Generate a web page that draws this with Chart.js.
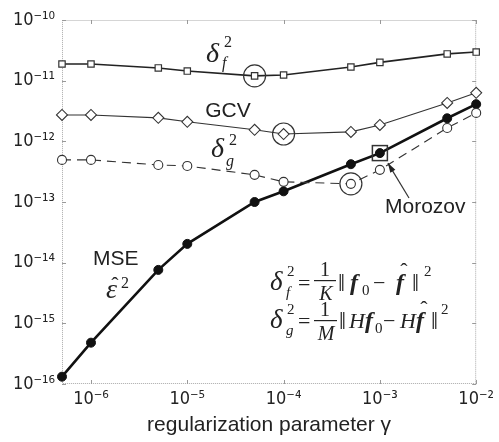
<!DOCTYPE html>
<html lang="en">
<head>
  <meta charset="UTF-8" />
  <title>Regularization parameter curves</title>
  <style>
    body { margin: 0; background: #fff; }
    #wrap { width: 499px; height: 442px; }
  </style>
</head>
<body>
  <div id="wrap"><canvas id="chart" width="499" height="442"></canvas></div>

  <script src="https://cdn.jsdelivr.net/npm/chart.js"></script>
  <script>
    // regularization parameter (x) and the four curves
    const gammaValues = [5e-7, 1e-6, 5e-6, 1e-5, 5e-5, 1e-4, 5e-4, 1e-3, 5e-3, 1e-2];
    const deltaF2 = [1.88e-11, 1.88e-11, 1.62e-11, 1.44e-11, 1.2e-11, 1.24e-11, 1.68e-11, 2.0e-11, 2.76e-11, 2.96e-11];
    const gcv     = [2.72e-12, 2.72e-12, 2.44e-12, 2.1e-12, 1.55e-12, 1.32e-12, 1.43e-12, 1.86e-12, 4.3e-12, 6.3e-12];
    const deltaG2 = [4.94e-13, 4.94e-13, 4.08e-13, 3.93e-13, 2.8e-13, 2.15e-13, 1.99e-13, 3.39e-13, 1.66e-12, 2.94e-12];
    const mse     = [1.32e-16, 4.8e-16, 7.6e-15, 2.04e-14, 1.0e-13, 1.5e-13, 4.2e-13, 6.4e-13, 2.4e-12, 4.1e-12];

    // chosen optimum on each curve (index into gammaValues)
    const bestF = 4, bestGcv = 5, bestMorozov = 6, bestMse = 7;

    const xTickValues = [1e-6, 1e-5, 1e-4, 1e-3, 1e-2];
    const xTickLabels = ['10⁻⁶', '10⁻⁵', '10⁻⁴', '10⁻³', '10⁻²'];
    const yTickValues = [1e-16, 1e-15, 1e-14, 1e-13, 1e-12, 1e-11, 1e-10];
    const yTickLabels = ['10⁻¹⁶', '10⁻¹⁵', '10⁻¹⁴', '10⁻¹³', '10⁻¹²', '10⁻¹¹', '10⁻¹⁰'];

    const pts = arr => arr.map((v, i) => ({ x: gammaValues[i], y: v }));
    const tickFont = '"DejaVu Sans Condensed", "DejaVu Sans", sans-serif';

    function put(ctx, text, x, y, font, align) {
      ctx.font = font;
      ctx.textAlign = align || 'left';
      ctx.fillText(text, x, y);
    }

    // dotted frame + inward ticks on all four sides
    const framePlugin = {
      id: 'frame',
      beforeDatasetsDraw(chart) {
        const { ctx, chartArea: a, scales } = chart;
        ctx.save();
        ctx.strokeStyle = '#aaa';
        ctx.lineWidth = 1;
        ctx.setLineDash([1, 1]);
        ctx.strokeRect(a.left + 0.5, a.top + 0.5, a.right - a.left - 1, a.bottom - a.top - 1);
        ctx.setLineDash([]);
        ctx.strokeStyle = '#999';
        xTickValues.forEach(v => {
          const px = Math.round(scales.x.getPixelForValue(v)) + 0.5;
          ctx.beginPath();
          ctx.moveTo(px, a.bottom); ctx.lineTo(px, a.bottom - 4);
          ctx.moveTo(px, a.top); ctx.lineTo(px, a.top + 4);
          ctx.stroke();
        });
        yTickValues.forEach(v => {
          const py = Math.round(scales.y.getPixelForValue(v)) + 0.5;
          ctx.beginPath();
          ctx.moveTo(a.left, py); ctx.lineTo(a.left + 4, py);
          ctx.moveTo(a.right, py); ctx.lineTo(a.right - 4, py);
          ctx.stroke();
        });
        ctx.restore();
      }
    };

    // optimum markers, arrow and text labels
    const notesPlugin = {
      id: 'notes',
      afterDatasetsDraw(chart) {
        const { ctx, scales } = chart;
        const px = i => scales.x.getPixelForValue(gammaValues[i]);
        const py = v => scales.y.getPixelForValue(v);
        ctx.save();
        ctx.strokeStyle = '#333';
        ctx.fillStyle = '#222';
        ctx.lineWidth = 1.2;
        [[bestF, deltaF2], [bestGcv, gcv], [bestMorozov, deltaG2]].forEach(([i, arr]) => {
          ctx.beginPath();
          ctx.arc(px(i), py(arr[i]), 11, 0, Math.PI * 2);
          ctx.stroke();
        });
        const sx = px(bestMse), sy = py(mse[bestMse]);
        ctx.lineWidth = 1.5;
        ctx.strokeRect(sx - 7.5, sy - 7.5, 15, 15);

        // arrow from "Morozov" to the MSE optimum
        const tx = sx + 8, ty = sy + 10, fx = 409, fy = 198;
        const ang = Math.atan2(ty - fy, tx - fx);
        ctx.lineWidth = 1.2;
        ctx.beginPath();
        ctx.moveTo(fx, fy); ctx.lineTo(tx, ty);
        ctx.stroke();
        ctx.beginPath();
        ctx.moveTo(tx, ty);
        ctx.lineTo(tx - 10 * Math.cos(ang - 0.3), ty - 10 * Math.sin(ang - 0.3));
        ctx.lineTo(tx - 10 * Math.cos(ang + 0.3), ty - 10 * Math.sin(ang + 0.3));
        ctx.closePath();
        ctx.fill();

        const sans = '21px "Liberation Sans", Arial, sans-serif';
        const serif = '"Liberation Serif", "Times New Roman", serif';
        ctx.textBaseline = 'alphabetic';

        // curve labels
        put(ctx, 'δ', 206, 62, 'italic 28px ' + serif);
        put(ctx, '2', 224, 47, '16px ' + serif);
        put(ctx, 'f', 222, 68, 'italic 16px ' + serif);
        put(ctx, 'GCV', 228, 117, sans, 'center');
        put(ctx, 'δ', 211, 157, 'italic 28px ' + serif);
        put(ctx, '2', 229, 145, '16px ' + serif);
        put(ctx, 'g', 226, 166, 'italic 16px ' + serif);
        put(ctx, 'MSE', 93, 265, sans);
        put(ctx, 'ε', 106, 298, 'italic 28px ' + serif);
        put(ctx, 'ˆ', 115, 292, '22px ' + serif, 'center');
        put(ctx, '2', 121, 288, '16px ' + serif);
        put(ctx, 'Morozov', 385, 213, sans);

        // formula 1
        put(ctx, 'δ', 270, 290, 'italic 27px ' + serif);
        put(ctx, '2', 287, 276, '15px ' + serif);
        put(ctx, 'f', 286, 297, 'italic 15px ' + serif);
        put(ctx, '=', 298, 290, '22px ' + serif);
        put(ctx, '1', 325, 276, '20px ' + serif, 'center');
        ctx.fillRect(314, 280, 22, 1.2);
        put(ctx, 'K', 326, 300, 'italic 20px ' + serif, 'center');
        put(ctx, '‖', 338, 291, '25px ' + serif);
        put(ctx, 'f', 350, 290, 'italic bold 24px ' + serif);
        put(ctx, '0', 362, 295, '15px ' + serif);
        put(ctx, '−', 373, 290, '22px ' + serif);
        put(ctx, 'f', 396, 290, 'italic bold 24px ' + serif);
        put(ctx, 'ˆ', 404, 278, '22px ' + serif, 'center');
        put(ctx, '‖', 412, 291, '25px ' + serif);
        put(ctx, '2', 424, 276, '15px ' + serif);

        // formula 2
        put(ctx, 'δ', 270, 328, 'italic 27px ' + serif);
        put(ctx, '2', 287, 314, '15px ' + serif);
        put(ctx, 'g', 286, 335, 'italic 15px ' + serif);
        put(ctx, '=', 298, 328, '22px ' + serif);
        put(ctx, '1', 325, 316, '20px ' + serif, 'center');
        ctx.fillRect(314, 320, 23, 1.2);
        put(ctx, 'M', 326, 340, 'italic 20px ' + serif, 'center');
        put(ctx, '‖', 339, 329, '25px ' + serif);
        put(ctx, 'H', 349, 328, 'italic 22px ' + serif);
        put(ctx, 'f', 365, 328, 'italic bold 24px ' + serif);
        put(ctx, '0', 375, 333, '15px ' + serif);
        put(ctx, '−', 383, 328, '22px ' + serif);
        put(ctx, 'H', 400, 328, 'italic 22px ' + serif);
        put(ctx, 'f', 416, 328, 'italic bold 24px ' + serif);
        put(ctx, 'ˆ', 424, 316, '22px ' + serif, 'center');
        put(ctx, '‖', 431, 329, '25px ' + serif);
        put(ctx, '2', 441, 314, '15px ' + serif);
        ctx.restore();
      }
    };

    const ctx = document.getElementById('chart').getContext('2d');
    new Chart(ctx, {
      type: 'line',
      data: {
        datasets: [
          {
            label: 'δf²', data: pts(deltaF2),
            borderColor: '#222', borderWidth: 1.6,
            pointStyle: 'rect', pointRadius: 4.5,
            pointBackgroundColor: '#fff', pointBorderColor: '#333', pointBorderWidth: 1.2
          },
          {
            label: 'GCV', data: pts(gcv),
            borderColor: '#333', borderWidth: 1.1,
            pointStyle: 'rectRot', pointRadius: 5.5,
            pointBackgroundColor: '#fff', pointBorderColor: '#333', pointBorderWidth: 1.1
          },
          {
            label: 'δg²', data: pts(deltaG2),
            borderColor: '#333', borderWidth: 1.1, borderDash: [9, 6],
            pointStyle: 'circle', pointRadius: 4.5,
            pointBackgroundColor: '#fff', pointBorderColor: '#333', pointBorderWidth: 1.1
          },
          {
            label: 'MSE', data: pts(mse),
            borderColor: '#111', borderWidth: 2.6,
            pointStyle: 'circle', pointRadius: 4.5,
            pointBackgroundColor: '#111', pointBorderColor: '#111', pointBorderWidth: 1
          }
        ]
      },
      options: {
        responsive: false,
        animation: false,
        devicePixelRatio: 1,
        clip: false,
        layout: { padding: { top: 20, right: 21, left: 0, bottom: 0 } },
        elements: { line: { tension: 0 } },
        plugins: {
          legend: { display: false },
          tooltip: { enabled: false }
        },
        scales: {
          x: {
            type: 'logarithmic',
            min: 5e-7, max: 1e-2,
            afterBuildTicks: s => { s.ticks = xTickValues.map(v => ({ value: v })); },
            afterFit: s => { s.height = 58; },
            grid: { display: false, drawTicks: false },
            border: { display: false },
            ticks: {
              padding: 5, color: '#222', maxRotation: 0,
              font: { family: tickFont, size: 18 },
              callback: v => xTickLabels[xTickValues.findIndex(t => Math.abs(Math.log10(t) - Math.log10(v)) < 1e-6)]
            },
            title: {
              display: true, text: 'regularization parameter γ', color: '#222',
              font: { family: '"Liberation Sans", Arial, sans-serif', size: 21 },
              padding: { top: 0, bottom: 4 }
            }
          },
          y: {
            type: 'logarithmic',
            min: 1e-16, max: 1e-10,
            afterBuildTicks: s => { s.ticks = yTickValues.map(v => ({ value: v })); },
            afterFit: s => { s.width = 62; },
            grid: { display: false, drawTicks: false },
            border: { display: false },
            ticks: {
              padding: 7, color: '#222',
              font: { family: tickFont, size: 18 },
              callback: v => yTickLabels[yTickValues.findIndex(t => Math.abs(Math.log10(t) - Math.log10(v)) < 1e-6)]
            }
          }
        }
      },
      plugins: [framePlugin, notesPlugin]
    });
  </script>
</body>
</html>
